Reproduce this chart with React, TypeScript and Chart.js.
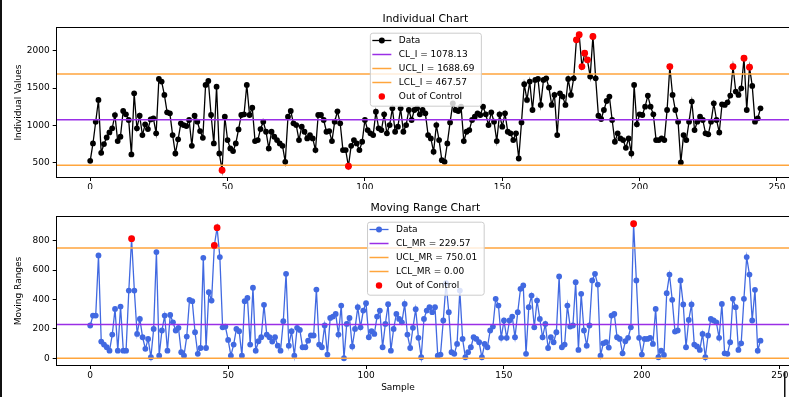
import React, { useEffect, useRef } from 'react';
import { Chart, registerables } from 'chart.js';

Chart.register(...registerables);

// ---------- data ----------
const individualValues: number[] = [
  528, 760, 1050, 1342, 635, 752, 840, 908, 962, 1140,
  792, 850, 1194, 1150, 1074, 613, 1431, 962, 1132, 872,
  1016, 953, 1082, 1096, 895, 1624, 1588, 1409, 1176, 1163,
  872, 626, 815, 1029, 1006, 993, 1074, 729, 1132, 1051,
  926, 836, 1543, 1597, 1141, 760, 1520, 626, 402, 1118,
  805, 694, 658, 760, 948, 1141, 1150, 1543, 1141, 1239,
  792, 805, 953, 1051, 917, 694, 917, 850, 805, 760,
  729, 514, 1118, 1194, 1029, 1006, 805, 984, 917, 828,
  872, 828, 671, 1141, 1141, 1074, 917, 926, 792, 1051,
  1190, 1030, 671, 671, 455, 729, 805, 760, 671, 783,
  1074, 939, 895, 872, 1185, 962, 939, 1150, 895, 1006,
  1230, 917, 984, 1230, 917, 1006, 1208, 1074, 1208, 1230,
  1150, 1208, 1163, 872, 828, 649, 1006, 805, 537, 515,
  760, 1042, 1297, 1208, 1194, 1252, 792, 917, 939, 1074,
  1118, 1163, 1141, 1252, 1150, 1006, 1176, 1051, 792, 1150,
  984, 1163, 917, 895, 805, 895, 559, 1042, 1552, 1342,
  1588, 1208, 1610, 1624, 1275, 1610, 1632, 1507, 1275, 1409,
  872, 1431, 1387, 1275, 1624, 1409, 1632, 2147, 2214, 1789,
  1968, 1879, 1655, 2192, 1632, 1132, 1087, 1208, 1328, 1387,
  1074, 783, 895, 828, 805, 702, 828, 626, 1543, 1016,
  1150, 1141, 1252, 1400, 1252, 1150, 805, 805, 828, 805,
  1208, 1789, 1409, 1208, 1051, 506, 872, 805, 1051, 1320,
  939, 1051, 1118, 1074, 895, 882, 1051, 1297, 1074, 908,
  1284, 1275, 1311, 1400, 1789, 1454, 1409, 1498, 1901, 1208,
  1780, 1530, 1051, 1096, 1230,
];

const movingRanges: number[] = [
  223, 291, 291, 700, 114, 93, 75, 52, 161, 336,
  52, 352, 52, 52, 461, 814, 461, 166, 268, 143,
  64, 132, 7, 200, 723, 18, 189, 291, 52, 295,
  245, 189, 207, 41, 18, 148, 398, 389, 177, 30,
  70, 684, 70, 450, 393, 768, 889, 689, 211, 216,
  125, 18, 93, 200, 184, 18, 389, 411, 93, 480,
  52, 116, 143, 364, 161, 143, 114, 143, 86, 52,
  252, 575, 86, 184, 18, 207, 193, 75, 75, 120,
  155, 155, 468, 93, 75, 223, 25, 275, 284, 302,
  161, 359, 0, 234, 275, 80, 200, 348, 211, 325,
  375, 143, 184, 166, 284, 325, 75, 234, 368, 52,
  200, 302, 268, 245, 370, 161, 70, 207, 334, 139,
  7, 268, 325,
  348, 314, 348, 18, 25, 257, 511,
  314, 41, 30, 98, 461, 132, 7, 41, 75, 143,
  132, 109, 7, 98, 75, 189, 216, 405, 359, 139,
  257, 139, 257, 284, 143, 314,
  473, 496, 30, 348, 427, 211, 393, 268, 143, 234, 70, 143, 109,
  177, 557, 75, 93, 359, 216, 223, 518, 57, 439, 189,
  86, 223, 530, 575, 502, 18, 102, 109, 73, 291,
  302, 143, 132, 34, 116, 139, 211, 916, 530, 139,
  25, 132, 132, 139, 98, 336, 7, 52, 23, 443,
  570, 398, 182, 189,
  530, 366, 75, 261, 366, 93,
  80, 57, 166, 7, 155, 268, 257, 245, 139, 370,
  34, 30, 109, 405, 348, 57, 102, 405, 689, 570,
  257, 466, 52, 120,
];

const CL_I = 1078.13;
const UCL_I = 1688.69;
const LCL_I = 467.57;
const CL_MR = 229.57;
const UCL_MR = 750.01;
const LCL_MR = 0.0;

const xTicks = [0, 50, 100, 150, 200, 250];
const yTicksI = [500, 1000, 1500, 2000];
const yTicksMR = [0, 200, 400, 600, 800];

const legendI = ['Data', `CL_I = ${CL_I.toFixed(2)}`, `UCL_I = ${UCL_I.toFixed(2)}`, `LCL_I = ${LCL_I.toFixed(2)}`, 'Out of Control'];
const legendMR = ['Data', `CL_MR = ${CL_MR.toFixed(2)}`, `UCL_MR = ${UCL_MR.toFixed(2)}`, `LCL_MR = ${LCL_MR.toFixed(2)}`, 'Out of Control'];
const xAxisLabel = 'Sample';

// ---------- styling ----------
const FONT = '"DejaVu Sans", "Liberation Sans", sans-serif';
const PURPLE = '#9a2ee6';
const ORANGE = '#ffa53c';
const RED = '#ff0000';
const CANVAS_W = 800;

const decorPlugin = {
  id: 'decor',
  afterDraw(chart: any, _args: any, opts: any) {
    const { ctx, chartArea: ca } = chart;
    ctx.save();
    // spines (full box)
    ctx.strokeStyle = '#000';
    ctx.lineWidth = 1;
    ctx.strokeRect(Math.round(ca.left) - 0.5, Math.round(ca.top) - 0.5, Math.round(ca.right - ca.left) + 1, Math.round(ca.bottom - ca.top) + 1);

    const cx = (ca.left + ca.right) / 2;
    ctx.fillStyle = '#000';
    // title
    ctx.font = `10.8px ${FONT}`;
    ctx.textAlign = 'center';
    ctx.textBaseline = 'alphabetic';
    ctx.fillText(opts.title, cx, ca.top - 6.2);
    // y label
    ctx.save();
    ctx.font = `9px ${FONT}`;
    ctx.translate(opts.yLabelX, (ca.top + ca.bottom) / 2);
    ctx.rotate(-Math.PI / 2);
    ctx.textBaseline = 'middle';
    ctx.fillText(opts.yLabel, 0, 0);
    ctx.restore();
    // figure-level x label
    if (opts.xLabel) {
      ctx.font = `9px ${FONT}`;
      ctx.textBaseline = 'middle';
      ctx.fillText(opts.xLabel, opts.xLabelX, opts.xLabelY);
    }
    // legend
    const items = opts.legend as { label: string; kind: string; color: string }[];
    ctx.font = `9px ${FONT}`;
    const maxW = Math.max(...items.map((it) => ctx.measureText(it.label).width));
    const w = 29 + maxW + 6.5;
    const h = 73;
    const left = cx - w / 2;
    const top = ca.top + 4.7;
    ctx.beginPath();
    (ctx as any).roundRect(left + 0.5, top + 0.5, w, h, 2.5);
    ctx.fillStyle = 'rgba(255,255,255,0.8)';
    ctx.fill();
    ctx.strokeStyle = '#cccccc';
    ctx.lineWidth = 1;
    ctx.stroke();
    items.forEach((it, k) => {
      const y = top + 7.8 + k * 14;
      if (it.kind === 'line' || it.kind === 'linemarker') {
        ctx.strokeStyle = it.color;
        ctx.lineWidth = it.kind === 'line' ? 1.5 : 1.3;
        ctx.beginPath();
        ctx.moveTo(left + 2.5, y);
        ctx.lineTo(left + 21.5, y);
        ctx.stroke();
      }
      if (it.kind === 'linemarker' || it.kind === 'dot') {
        ctx.fillStyle = it.color;
        ctx.beginPath();
        ctx.arc(left + 12, y, it.kind === 'dot' ? 3.2 : 3, 0, Math.PI * 2);
        ctx.fill();
      }
      ctx.fillStyle = '#000';
      ctx.textAlign = 'left';
      ctx.textBaseline = 'middle';
      ctx.fillText(it.label, left + 29, y + 0.5);
    });
    // screenshot frame fragments
    if (opts.frame) {
      ctx.fillStyle = '#111';
      ctx.fillRect(0, 0, 2, chart.height);
      if (opts.frameRight) ctx.fillRect(784, opts.frameRight, 1.5, chart.height - opts.frameRight);
    }
    ctx.restore();
  },
};

type Spec = {
  values: number[];
  cl: number;
  ucl: number;
  lcl: number;
  color: string;
  yTicks: number[];
  height: number;
  xAxisHeight: number;
  title: string;
  yLabel: string;
  xLabel?: string;
  xLabelY?: number;
  frameRight?: number;
  legendLabels: string[];
};

function buildConfig(s: Spec): any {
  const n = s.values.length;
  const xMin = -0.05 * (n - 1);
  const xMax = 1.05 * (n - 1);
  const vMin = Math.min(...s.values);
  const vMax = Math.max(...s.values);
  const m = 0.05 * (vMax - vMin);
  const pts = s.values.map((v, i) => ({ x: i, y: v }));
  const out = pts.filter((p) => p.y > s.ucl || p.y < s.lcl);
  const hline = (y: number) => [{ x: xMin, y }, { x: xMax, y }];
  const lineDs = (y: number, color: string, order: number) => ({
    type: 'line',
    data: hline(y),
    borderColor: color,
    borderWidth: 1.5,
    pointRadius: 0,
    fill: false,
    order,
  });
  const tickFont = { family: FONT, size: 9 };
  return {
    type: 'line',
    data: {
      datasets: [
        { type: 'line', data: out, showLine: false, pointRadius: 3.4, pointBackgroundColor: RED, pointBorderWidth: 0, borderColor: RED, order: 0 },
        lineDs(s.cl, PURPLE, 1),
        lineDs(s.ucl, ORANGE, 2),
        lineDs(s.lcl, ORANGE, 3),
        {
          type: 'line',
          data: pts,
          borderColor: s.color,
          borderWidth: 1.3,
          pointRadius: 2.9,
          pointBackgroundColor: s.color,
          pointBorderWidth: 0,
          tension: 0,
          fill: false,
          order: 4,
        },
      ],
    },
    options: {
      animation: false,
      responsive: false,
      devicePixelRatio: 1,
      events: [],
      layout: { padding: { top: 28, right: 6, left: 0, bottom: 0 } },
      plugins: {
        legend: { display: false },
        tooltip: { enabled: false },
        title: { display: false },
        decor: {
          title: s.title,
          yLabel: s.yLabel,
          yLabelX: 18.5,
          xLabel: s.xLabel,
          xLabelX: 398,
          xLabelY: s.xLabelY,
          frame: true,
          frameRight: s.frameRight,
          legend: [
            { label: s.legendLabels[0], kind: 'linemarker', color: s.color },
            { label: s.legendLabels[1], kind: 'line', color: PURPLE },
            { label: s.legendLabels[2], kind: 'line', color: ORANGE },
            { label: s.legendLabels[3], kind: 'line', color: ORANGE },
            { label: s.legendLabels[4], kind: 'dot', color: RED },
          ],
        },
      },
      scales: {
        x: {
          type: 'linear',
          min: xMin,
          max: xMax,
          afterBuildTicks: (sc: any) => {
            sc.ticks = xTicks.map((v) => ({ value: v }));
          },
          afterFit: (sc: any) => {
            sc.height = s.xAxisHeight;
            sc.paddingLeft = 0;
            sc.paddingRight = 0;
          },
          ticks: { font: tickFont, color: '#000', padding: 1, maxRotation: 0, autoSkip: false, callback: (v: any) => String(v) },
          grid: { display: true, drawOnChartArea: false, drawTicks: true, tickLength: 4, color: '#000', lineWidth: 1 },
          border: { display: false },
        },
        y: {
          type: 'linear',
          min: vMin - m,
          max: vMax + m,
          afterBuildTicks: (sc: any) => {
            sc.ticks = s.yTicks.map((v) => ({ value: v }));
          },
          afterFit: (sc: any) => {
            sc.width = 56.7;
            sc.paddingTop = 0;
            sc.paddingBottom = 0;
          },
          ticks: { font: tickFont, color: '#000', padding: 3, autoSkip: false, callback: (v: any) => String(v) },
          grid: { display: true, drawOnChartArea: false, drawTicks: true, tickLength: 4, color: '#000', lineWidth: 1 },
          border: { display: false },
        },
      },
    },
    plugins: [decorPlugin],
  };
}

function ChartCanvas({ spec, top }: { spec: Spec; top: number }) {
  const ref = useRef<HTMLCanvasElement>(null);
  useEffect(() => {
    if (!ref.current) return;
    const chart = new Chart(ref.current, buildConfig(spec));
    return () => chart.destroy();
  }, [spec]);
  return (
    <canvas
      ref={ref}
      width={CANVAS_W}
      height={spec.height}
      style={{ position: 'absolute', left: 0, top, width: CANVAS_W, height: spec.height, display: 'block' }}
    />
  );
}

const topSpec: Spec = {
  values: individualValues,
  cl: CL_I,
  ucl: UCL_I,
  lcl: LCL_I,
  color: '#000000',
  yTicks: yTicksI,
  height: 189,
  xAxisHeight: 12,
  title: 'Individual Chart',
  yLabel: 'Individual Values',
  legendLabels: legendI,
};

const bottomSpec: Spec = {
  values: movingRanges,
  cl: CL_MR,
  ucl: UCL_MR,
  lcl: LCL_MR,
  color: '#4169e1',
  yTicks: yTicksMR,
  height: 208,
  xAxisHeight: 32,
  title: 'Moving Range Chart',
  yLabel: 'Moving Ranges',
  xLabel: xAxisLabel,
  xLabelY: 199,
  frameRight: 183,
  legendLabels: legendMR,
};

export default function App() {
  return (
    <div style={{ position: 'fixed', left: 0, top: 0, width: 789, height: 397, overflow: 'hidden', background: '#fff' }}>
      <ChartCanvas spec={topSpec} top={0} />
      <ChartCanvas spec={bottomSpec} top={189} />
    </div>
  );
}
